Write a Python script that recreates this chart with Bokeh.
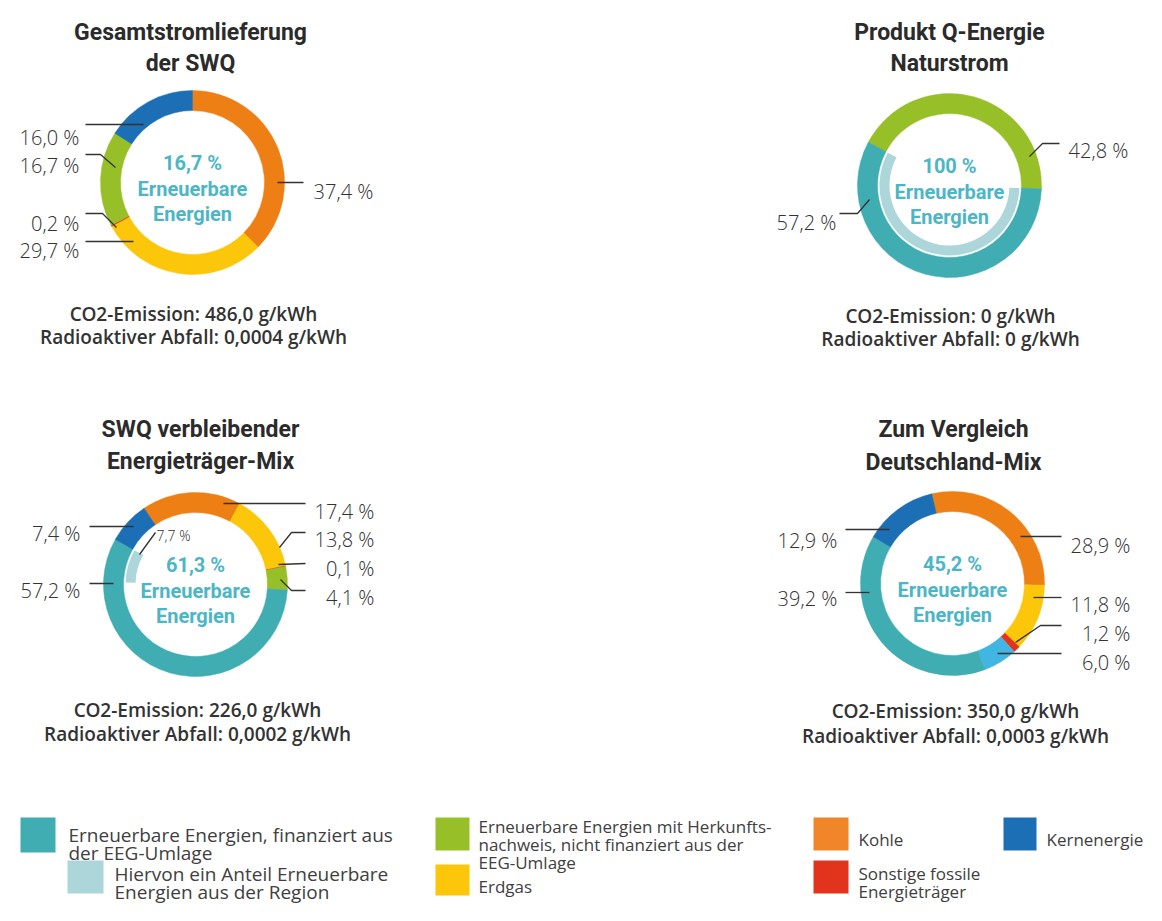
import numpy as np
from bokeh.plotting import figure
from bokeh.models import Range1d
from bokeh.core.properties import value
from bokeh.embed import file_html
from bokeh.resources import INLINE

# ------------------------------------------------------------------ data
categories = ["Kohle", "Erdgas", "Sonstige fossile Energieträger",
              "Erneuerbare Energien mit Herkunftsnachweis",
              "Sonstige erneuerbare Energien",
              "Erneuerbare Energien, finanziert aus der EEG-Umlage",
              "Kernenergie"]
cat_colors = ["#ee7f14", "#fcc70a", "#e2341c", "#97bf28", "#42b6e2", "#3fadb1", "#1d6fb5"]
regional_color = "#acd6da"

chart_titles = [["Gesamtstromlieferung", "der SWQ"],
                ["Produkt Q-Energie", "Naturstrom"],
                ["SWQ verbleibender", "Energieträger-Mix"],
                ["Zum Vergleich", "Deutschland-Mix"]]

# shares in % (order = categories)
shares_gesamt       = [37.4, 29.7, 0.2, 16.7, 0.0, 0.0, 16.0]
shares_produkt      = [0.0, 0.0, 0.0, 42.8, 0.0, 57.2, 0.0]
shares_verbleibend  = [17.4, 13.8, 0.1, 4.1, 0.0, 57.2, 7.4]
shares_deutschland  = [28.9, 11.8, 1.2, 0.0, 6.0, 39.2, 12.9]
all_shares = [shares_gesamt, shares_produkt, shares_verbleibend, shares_deutschland]

regional_shares   = [0.0, 57.2, 7.7, 0.0]     # "Hiervon ... aus der Region"
renewable_totals  = [16.7, 100.0, 61.3, 45.2]
co2_emission      = ["486,0", "0", "226,0", "350,0"]
radioactive_waste = ["0,0004", "0", "0,0002", "0,0003"]

legend_labels = [["Erneuerbare Energien, finanziert aus", "der EEG-Umlage"],
                 ["Hiervon ein Anteil Erneuerbare", "Energien aus der Region"],
                 ["Erneuerbare Energien mit Herkunfts-", "nachweis, nicht finanziert aus der", "EEG-Umlage"],
                 ["Erdgas"],
                 ["Kohle"],
                 ["Sonstige fossile", "Energieträger"],
                 ["Kernenergie"]]
legend_colors = ["#3fadb1", regional_color, "#97bf28", "#fcc70a", "#f0852a", "#e2341c", "#1d6fb5"]

# ------------------------------------------------------------------ layout
W, H = 1146, 905
def Y(py):
    return H - py

COND = value("Roboto, 'DejaVu Sans Condensed', sans-serif")
OPEN = value("'Open Sans', sans-serif")
OPEN_LT = value("'Open Sans Light', 'Open Sans', sans-serif")
OPEN_SB = value("'Open Sans SemiBold', 'Open Sans', sans-serif")
TXT = "#333333"
CENTER_TXT = "#4cb6c6"

R_OUT, R_IN = 92, 72
REG_OUT, REG_IN = 70, 60

# chart centre, rotation of first segment (deg clockwise from 12 o'clock)
centers = [(192, 182), (949, 185), (195, 584), (952, 583)]
rotations = [0.0, -62.0, -34.0, -13.0]
title_x = [190, 949, 200, 953]
title_base = [(32, 63), (32, 63), (429, 461), (429, 462)]
foot_x = [193, 950, 197, 955]
foot_base = [(313, 336), (315, 338), (709, 733), (710, 735)]

# leader labels: (chart, category index or "reg", align, text x, baseline, polyline)
leaders = [
    (0, 6, "right", 79, 137, [(85, 124), (143, 124)]),
    (0, 3, "right", 79, 165, [(85, 154), (100, 154), (115, 167)]),
    (0, 2, "right", 79, 223, [(85, 213), (102, 213), (116, 227)]),
    (0, 1, "right", 79, 250, [(85, 241), (133, 241)]),
    (0, 0, "right", 373, 191, [(277, 182), (303, 182)]),
    (1, 3, "right", 1128, 150, [(1029, 156), (1042, 143), (1059, 143)]),
    (1, 5, "right", 836, 222, [(839, 213), (857, 213), (869, 199)]),
    (2, 0, "right", 374, 511, [(223, 503), (305, 503)]),
    (2, 1, "right", 374, 539, [(279, 547), (291, 532), (305, 532)]),
    (2, 2, "right", 374, 568, [(278, 564), (305, 563)]),
    (2, 3, "right", 374, 597, [(280, 579), (291, 590), (305, 590)]),
    (2, 6, "right", 80, 533, [(89, 526), (133, 526)]),
    (2, 5, "right", 80, 590, [(89, 583), (113, 583)]),
    (2, "reg", "left", 156, 535, [(155, 532), (139, 554)]),
    (3, 6, "right", 837, 540, [(845, 529), (889, 529)]),
    (3, 5, "right", 837, 598, [(845, 592), (869, 592)]),
    (3, 0, "right", 1130, 545, [(1020, 536), (1061, 536)]),
    (3, 1, "right", 1130, 604, [(1033, 597), (1061, 597)]),
    (3, 2, "right", 1130, 633, [(1015, 642), (1040, 625), (1061, 625)]),
    (3, 4, "right", 1130, 662, [(997, 653), (1061, 653)]),
]

def fmt(v):
    if abs(v - round(v)) < 1e-9 and v >= 100:
        return f"{int(round(v))}"
    return f"{v:.1f}".replace(".", ",")

def rad(deg_list):
    return list(np.deg2rad(np.array(deg_list, dtype=float)))

p = figure(width=W, height=H, x_range=Range1d(0, W), y_range=Range1d(0, H),
           output_backend="svg", toolbar_location=None, min_border=0)
p.axis.visible = False
p.grid.visible = False
p.outline_line_color = None
p.background_fill_color = "white"
p.border_fill_color = "white"

seg_end = {}
for ci, shares in enumerate(all_shares):
    cx, cy = centers[ci]
    vals = np.array(shares)
    cum = np.concatenate([[0.0], np.cumsum(vals)]) / 100.0 * 360.0 + rotations[ci]
    starts, ends, cols = [], [], []
    for k in range(len(vals)):
        if vals[k] <= 0:
            continue
        starts.append(90.0 - cum[k])
        ends.append(90.0 - cum[k + 1])
        cols.append(cat_colors[k])
        seg_end[(ci, k)] = cum[k + 1]
    p.annular_wedge(x=[cx] * len(starts), y=[Y(cy)] * len(starts),
                    inner_radius=R_IN, outer_radius=R_OUT,
                    start_angle=rad(starts), end_angle=rad(ends),
                    direction="clock", fill_color=cols, line_color=cols, line_width=0.5)
    # regional share: ends where the EEG segment ends, drawn inside the ring
    if regional_shares[ci] > 0:
        e = seg_end[(ci, 5)]
        s = e - regional_shares[ci] / 100.0 * 360.0
        p.annular_wedge(x=[cx], y=[Y(cy)], inner_radius=REG_IN, outer_radius=REG_OUT,
                        start_angle=rad([90.0 - s]), end_angle=rad([90.0 - e]),
                        direction="clock", fill_color=regional_color, line_color=None)

    # centre text
    p.text(x=[cx] * 3, y=[Y(cy - 19.5), Y(cy + 6.5), Y(cy + 31)],
           text=[f"{fmt(renewable_totals[ci])} %", "Erneuerbare", "Energien"],
           text_font=COND, text_font_size="20px", text_font_style="bold",
           text_color=CENTER_TXT, text_align="center", text_baseline="alphabetic")
    # title
    tb = title_base[ci]
    p.text(x=[title_x[ci]] * 2, y=[Y(tb[0]), Y(tb[1])], text=chart_titles[ci],
           text_font=COND, text_font_size="23px", text_font_style="bold",
           text_color="#2b2b2b", text_align="center", text_baseline="alphabetic")
    # footer
    fb = foot_base[ci]
    p.text(x=[foot_x[ci]] * 2, y=[Y(fb[0]), Y(fb[1])],
           text=[f"CO2-Emission: {co2_emission[ci]} g/kWh",
                 f"Radioaktiver Abfall: {radioactive_waste[ci]} g/kWh"],
           text_font=OPEN_SB, text_font_size="19px",
           text_color=TXT, text_align="center", text_baseline="alphabetic")

for (ci, cat, align, tx, tbase, pts) in leaders:
    if cat == "reg":
        txt = f"{fmt(regional_shares[ci])} %"
        size = "14px"
    else:
        txt = f"{fmt(all_shares[ci][cat])} %"
        size = "20px"
    p.line(x=[q[0] for q in pts], y=[Y(q[1]) for q in pts], line_color="#333333", line_width=1.3)
    p.text(x=[tx], y=[Y(tbase)], text=[txt], text_font=OPEN_LT, text_font_size=size,
           text_color=TXT, text_align=align, text_baseline="alphabetic")

# ------------------------------------------------------------------ legend
# (swatch left, top, right, bottom, text x, first baseline, line step, font size)
legend_layout = [
    (20, 817, 55, 852, 68, 834, 18.5, "19px"),
    (67, 860, 103, 893, 114, 873, 18.0, "19px"),
    (435, 817, 469, 850, 478, 826, 17.8, "17px"),
    (435, 864, 469, 895, 478, 886, 18.0, "17px"),
    (813, 817, 848, 850, 858, 839, 18.0, "17px"),
    (813, 860, 848, 893, 858, 873, 18.0, "17px"),
    (1003, 817, 1036, 850, 1046, 839, 18.0, "17px"),
]
for i, (l, t, r, b, tx, bl, step, fs) in enumerate(legend_layout):
    p.quad(left=[l], right=[r], top=[Y(t)], bottom=[Y(b)],
           fill_color=legend_colors[i], line_color=None)
    lines = legend_labels[i]
    p.text(x=[tx] * len(lines), y=[Y(bl + j * step) for j in range(len(lines))], text=lines,
           text_font=OPEN, text_font_size=fs, text_color="#404040",
           text_align="left", text_baseline="alphabetic")

open("out.html", "w").write(file_html(p, INLINE))
